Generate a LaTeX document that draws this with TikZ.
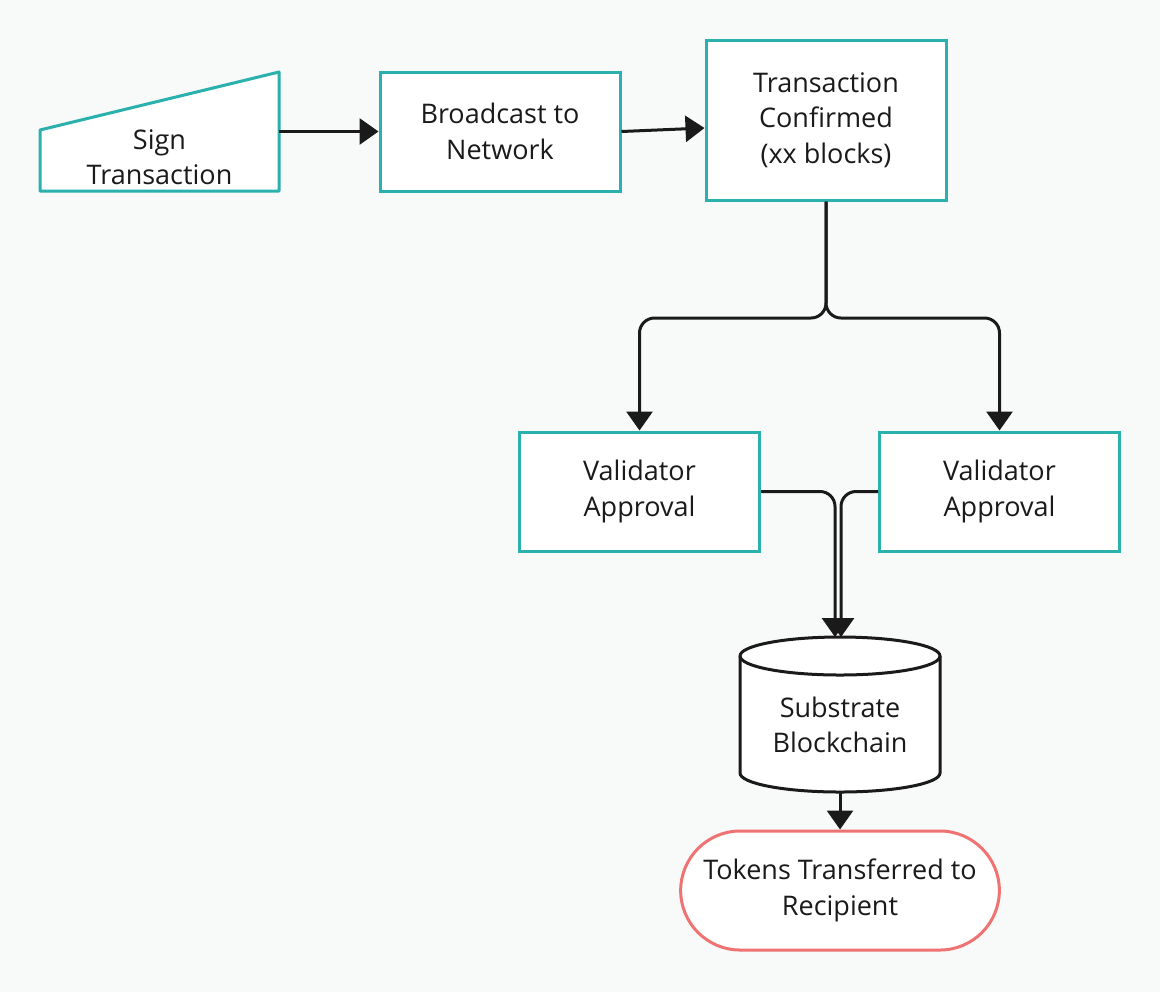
\documentclass[tikz,border=0pt]{standalone}
\usepackage{fontspec}
\setmainfont{Open Sans}
\usetikzlibrary{arrows.meta,positioning,shapes.geometric,shapes.misc,calc}

\definecolor{tealedge}{HTML}{2AB1AD}
\definecolor{rededge}{HTML}{F07373}
\definecolor{inkc}{HTML}{1A1A1A}
\definecolor{bgc}{HTML}{F8F9F9}

\begin{document}
\begin{tikzpicture}[
  x=0.5pt, y=-0.5pt,
  font=\fontsize{13.5}{17.75}\selectfont,
  line/.style={-{Triangle[length=9.5pt,width=13pt]}, line width=1.5pt, draw=inkc, rounded corners=7.5pt},
  box/.style={rectangle, draw=tealedge, line width=1.5pt, fill=white, align=center, text=inkc,
    minimum width=120pt, minimum height=59.5pt},
  manual/.style={rectangle, outer sep=0pt, minimum width=119.5pt, minimum height=59.5pt},
  txt/.style={align=center, text=inkc},
  disc/.style={x radius=50pt, y radius=9.5pt},
  term/.style={rounded rectangle, draw=rededge, line width=1.5pt, fill=white, align=center, text=inkc,
    minimum width=166pt, minimum height=59.5pt}
]

% Canvas
\fill[bgc] (0,0) rectangle (1160,992);
\useasboundingbox (0,0) rectangle (1160,992);

% Nodes
\node[manual] (sign) at (159.5,131.5) {};
\filldraw[fill=white, draw=tealedge, line width=1.5pt, line join=round]
  (sign.south west) -- ([yshift=-29pt]sign.north west) -- (sign.north east) -- (sign.south east) -- cycle;
\node[txt] (signtext) at ([yshift=-12.75pt]sign.center) {Sign\\Transaction};

\node[box] (bcast) at (500,131.5) {Broadcast to\\Network};
\node[box, minimum height=80pt] (confirmed) at (826,120) {Transaction\\Confirmed\\(xx blocks)};

\node[box] (valL) at (639.5,491.5) {Validator\\Approval};
\node[box] (valR) at (999.5,491.5) {Validator\\Approval};

% database drum
\node[manual, minimum width=100pt, minimum height=77.5pt] (chain) at (840,714.5) {};
\filldraw[fill=white, draw=inkc, line width=1.5pt]
  ([yshift=-9.5pt]chain.north west) -- ([yshift=9.5pt]chain.south west)
  arc[start angle=180, end angle=360, disc] -- ([yshift=-9.5pt]chain.north east)
  arc[start angle=0, end angle=180, disc] -- cycle;
\draw[draw=inkc, line width=1.5pt] ([yshift=-9.5pt]chain.north west) arc[start angle=180, end angle=360, disc];
\node[txt] (chaintext) at ([yshift=-5.25pt]chain.center) {Substrate\\Blockchain};

\node[term] (tokens) at (840,890.5) {Tokens Transferred to\\Recipient};

\coordinate (split) at (826,318);

% Arrows
\draw[line] (sign.east) -- (bcast.west);
\draw[line] (bcast.east) -- ([yshift=-4pt]confirmed.west);
\draw[line] (confirmed.south) -- (split) -| (valL.north);
\draw[line] (confirmed.south) -- (split) -| (valR.north);
\draw[line] (valL.east) -| ([xshift=-2.5pt]chain.north);
\draw[line] (valR.west) -| ([xshift=0.5pt]chain.north);
\draw[line] (chain.south) -- (tokens.north);

\end{tikzpicture}
\end{document}
